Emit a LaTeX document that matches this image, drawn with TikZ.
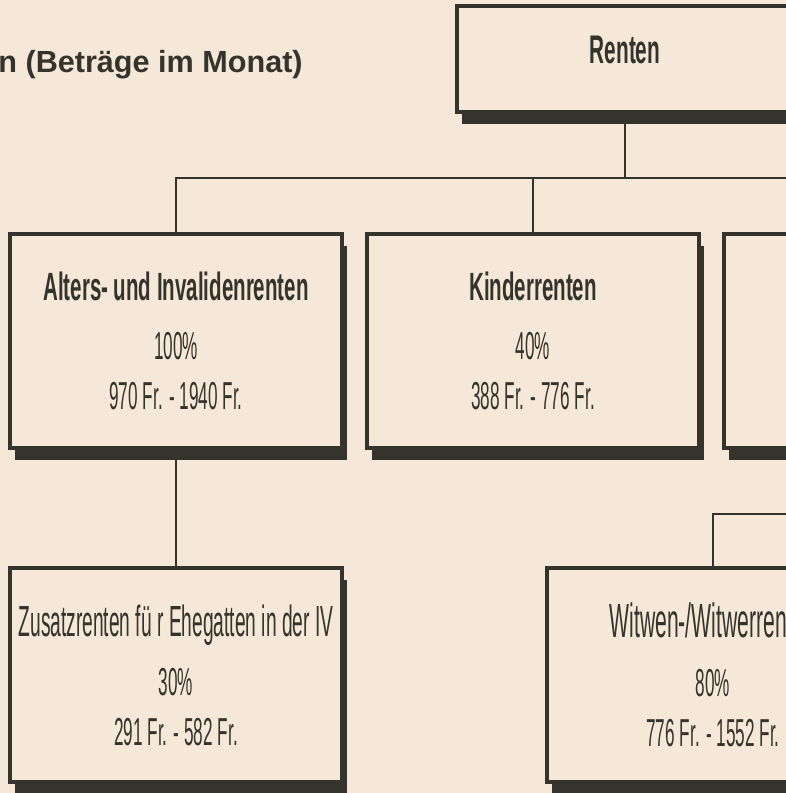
\documentclass[tikz,border=0pt]{standalone}
\usepackage{fontspec}
\setmainfont{Liberation Sans}
\newfontfamily\headfont{Liberation Sans}[FakeStretch=0.52]
\newfontfamily\bodyfont{Liberation Sans}[FakeStretch=0.44]
\usetikzlibrary{shadows}
\definecolor{paper}{RGB}{245,232,216}
\definecolor{ink}{RGB}{52,52,44}

\begin{document}
\begin{tikzpicture}[x=0.5pt, y=-0.5pt,
    rbox/.style={draw=ink, line width=2pt, fill=paper, inner sep=0pt,
        align=center, text=ink, font=\bodyfont\fontsize{19.5}{25}\selectfont,
        drop shadow={shadow xshift=2.5pt, shadow yshift=-6pt, fill=ink, opacity=1}},
    wide/.style={rbox, minimum width=166pt, minimum height=107pt},
    link/.style={draw=ink, line width=1pt}]
    \path[use as bounding box, fill=paper] (0,0) rectangle (786,793);
    \clip (0,0) rectangle (786,793);

    \node[anchor=base west, inner sep=0pt, text=ink,
        font=\bfseries\fontsize{15.3}{18}\selectfont] (titel) at (-2,72)
        {n (Beträge im Monat)};

    % Stufe 1
    \node[rbox, minimum width=168pt, minimum height=53pt, text depth=9pt]
        (renten) at (625,59) {\headfont\bfseries\fontsize{20}{25}\selectfont Renten};

    % Stufe 2
    \node[wide] (alters) at (176,341)
        {{\headfont\bfseries\fontsize{19.7}{25}\selectfont Alters- und Invalidenrenten}\\[4.5pt]
         100\%\\ 970 Fr. - 1940 Fr.};
    \node[wide] (kinder) at (533,341)
        {{\headfont\bfseries\fontsize{19.7}{25}\selectfont Kinderrenten}\\[4.5pt]
         40\%\\ 388 Fr. - 776 Fr.};
    \node[wide] (hinter) at (890,341) {};

    % Stufe 3
    \node[wide] (zusatz) at (176,675)
        {{\fontsize{21.8}{25}\selectfont Zusatzrenten fü r Ehegatten in der IV}\\[4.5pt]
         30\%\\ 291 Fr. - 582 Fr.};
    \node[wide] (witwen) at (713,675)
        {{\fontsize{24}{25}\selectfont Witwen-/Witwerrenten}\\[4.5pt]
         80\%\\ 776 Fr. - 1552 Fr.};

    % Verbindungen
    \coordinate (bus) at (900,178);
    \coordinate (gabel) at (900,514);
    \draw[link] (renten.south) -- (renten.south |- bus);
    \draw[link] (alters.north) -- (alters.north |- bus) -- (bus);
    \draw[link] (kinder.north) -- (kinder.north |- bus);
    \draw[link] (hinter.north) -- (hinter.north |- bus);
    \draw[link] (alters.south) -- (zusatz.north);
    \draw[link] (gabel) -- (witwen.north |- gabel) -- (witwen.north);
\end{tikzpicture}
\end{document}
